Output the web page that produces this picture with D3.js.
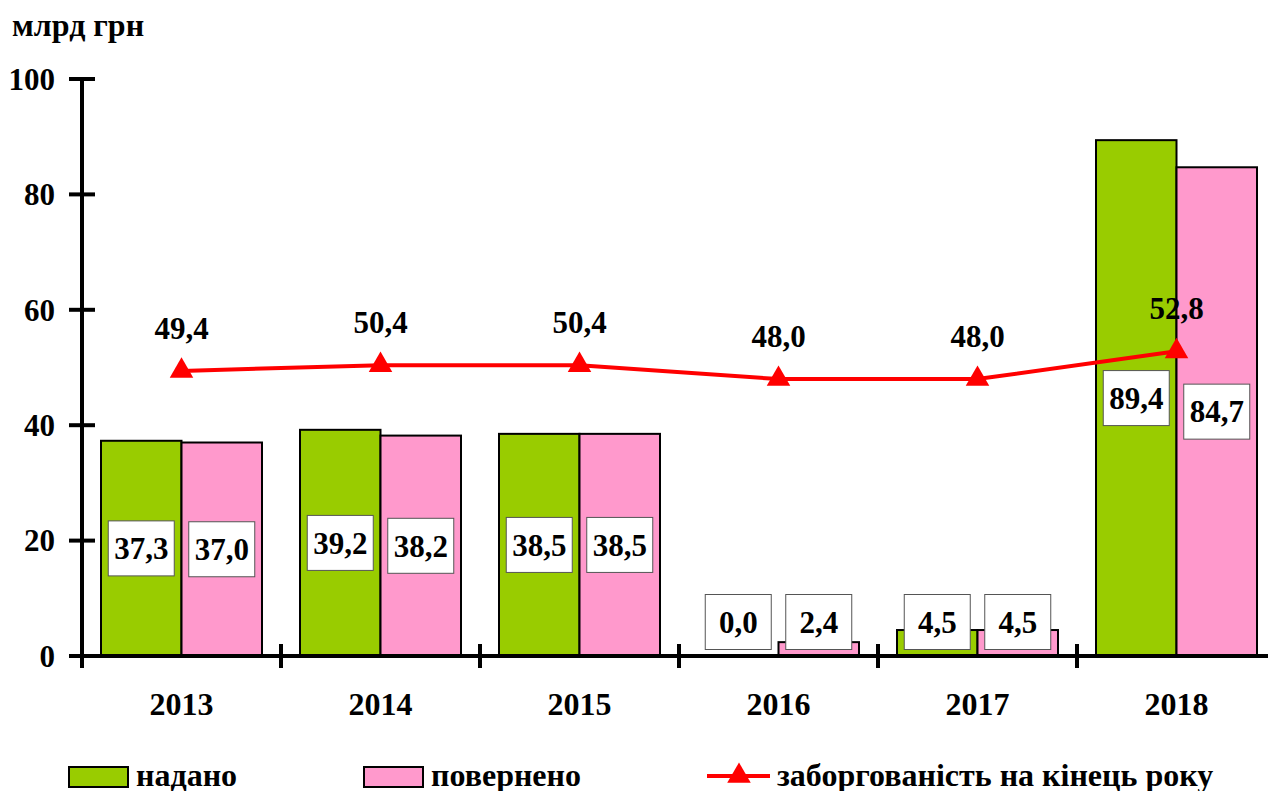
<!DOCTYPE html>
<html>
<head>
<meta charset="utf-8">
<script src="https://cdn.jsdelivr.net/npm/d3@7"></script>
<style>
  body { margin: 0; background: #fff; }
  text { font-family: "Liberation Serif", "Times New Roman", serif; font-weight: bold; fill: #000; }
</style>
</head>
<body>
<div id="chart"></div>
<script>
const years = ['2013', '2014', '2015', '2016', '2017', '2018']
const given = [37.3, 39.2, 38.5, 0.0, 4.5, 89.4]
const returned = [37.0, 38.2, 38.5, 2.4, 4.5, 84.7]
const debt = [49.4, 50.4, 50.4, 48.0, 48.0, 52.8]
const yTicks = [0, 20, 40, 60, 80, 100]
const legendLabels = ['надано', 'повернено', 'заборгованість на кінець року']

const dms = { width: 1268, height: 791 }
const fmt = v => v.toFixed(1).replace('.', ',')

const svg = d3.select('#chart').append('svg')
    .attr('width', dms.width)
    .attr('height', dms.height)

const x = d3.scaleBand().domain(years).range([82, 1276])
const inner = d3.scaleBand().domain(['given', 'returned']).range([19, x.bandwidth() - 19])
const y = d3.scaleLinear().domain([0, 100]).range([656, 79])

const series = [
    { key: 'given', values: given, color: '#99cc00' },
    { key: 'returned', values: returned, color: '#ff99cc' }
]

// bars
series.forEach(s => {
    svg.append('g').selectAll('rect')
        .data(years)
        .join('rect')
        .attr('x', d => x(d) + inner(s.key))
        .attr('width', inner.bandwidth())
        .attr('y', (d, i) => y(s.values[i]))
        .attr('height', (d, i) => y(0) - y(s.values[i]))
        .attr('fill', s.color)
        .attr('stroke', '#000')
        .attr('stroke-width', 2)
        .style('display', (d, i) => s.values[i] > 0 ? null : 'none')
})

// axes
svg.append('line')
    .attr('x1', x.range()[0]).attr('x2', x.range()[0])
    .attr('y1', y(100)).attr('y2', y(0) + 12)
    .attr('stroke', '#000').attr('stroke-width', 4)
svg.append('line')
    .attr('x1', 69).attr('x2', 1268)
    .attr('y1', y(0)).attr('y2', y(0))
    .attr('stroke', '#000').attr('stroke-width', 4)

svg.append('g').selectAll('line')
    .data(yTicks)
    .join('line')
    .attr('x1', 69).attr('x2', 95)
    .attr('y1', d => y(d)).attr('y2', d => y(d))
    .attr('stroke', '#000').attr('stroke-width', 4)

svg.append('g').selectAll('text')
    .data(yTicks)
    .join('text')
    .attr('x', 55)
    .attr('y', d => y(d))
    .attr('dy', '0.35em')
    .attr('text-anchor', 'end')
    .style('font-size', '31px')
    .text(d => d)

svg.append('g').selectAll('line')
    .data(years.slice(1))
    .join('line')
    .attr('x1', d => x(d)).attr('x2', d => x(d))
    .attr('y1', y(0) - 12).attr('y2', y(0) + 12)
    .attr('stroke', '#000').attr('stroke-width', 4)

svg.append('g').selectAll('text')
    .data(years)
    .join('text')
    .attr('x', d => x(d) + x.bandwidth() / 2)
    .attr('y', 715)
    .attr('text-anchor', 'middle')
    .style('font-size', '32px')
    .text(d => d)

svg.append('text')
    .attr('x', 12)
    .attr('y', 36)
    .style('font-size', '32px')
    .text('млрд грн')

// value boxes
series.forEach(s => {
    const g = svg.append('g').selectAll('g')
        .data(years)
        .join('g')
        .attr('transform', (d, i) => {
            const cx = x(d) + inner(s.key) + inner.bandwidth() / 2
            const cy = Math.min(y(s.values[i] / 2), 622)
            return `translate(${cx},${cy})`
        })
    g.append('rect')
        .attr('x', -33).attr('y', -27.5)
        .attr('width', 66).attr('height', 55)
        .attr('fill', '#fff')
        .attr('stroke', '#555').attr('stroke-width', 1)
    g.append('text')
        .attr('text-anchor', 'middle')
        .attr('dy', '0.35em')
        .style('font-size', '31px')
        .text((d, i) => fmt(s.values[i]))
})

// debt line
const cx = d => x(d) + x.bandwidth() / 2
const line = d3.line()
    .x((d, i) => cx(years[i]))
    .y(d => y(d))

svg.append('path')
    .attr('d', line(debt))
    .attr('fill', 'none')
    .attr('stroke', '#ff0000')
    .attr('stroke-width', 4)

const tri = d3.symbol().type(d3.symbolTriangle).size(240)

svg.append('g').selectAll('path')
    .data(debt)
    .join('path')
    .attr('d', tri)
    .attr('transform', (d, i) => `translate(${cx(years[i])},${y(d)})`)
    .attr('fill', '#ff0000')

svg.append('g').selectAll('text')
    .data(debt)
    .join('text')
    .attr('x', (d, i) => cx(years[i]))
    .attr('y', d => y(d) - 32)
    .attr('text-anchor', 'middle')
    .style('font-size', '31px')
    .text(d => fmt(d))

// legend
const legend = svg.append('g')
legend.selectAll('rect')
    .data(series)
    .join('rect')
    .attr('x', (d, i) => 69 + i * 295)
    .attr('y', 767)
    .attr('width', 59).attr('height', 20)
    .attr('fill', d => d.color)
    .attr('stroke', '#000').attr('stroke-width', 2)

legend.selectAll('text.lab')
    .data(legendLabels.slice(0, 2))
    .join('text')
    .attr('class', 'lab')
    .attr('x', (d, i) => 136 + i * 295)
    .attr('y', 786)
    .style('font-size', '32px')
    .text(d => d)

legend.append('line')
    .attr('x1', 707).attr('x2', 770)
    .attr('y1', 776).attr('y2', 776)
    .attr('stroke', '#ff0000').attr('stroke-width', 4)
legend.append('path')
    .attr('d', tri)
    .attr('transform', 'translate(739,776)')
    .attr('fill', '#ff0000')
legend.append('text')
    .attr('x', 777)
    .attr('y', 786)
    .style('font-size', '32px')
    .text(legendLabels[2])
</script>
</body>
</html>
